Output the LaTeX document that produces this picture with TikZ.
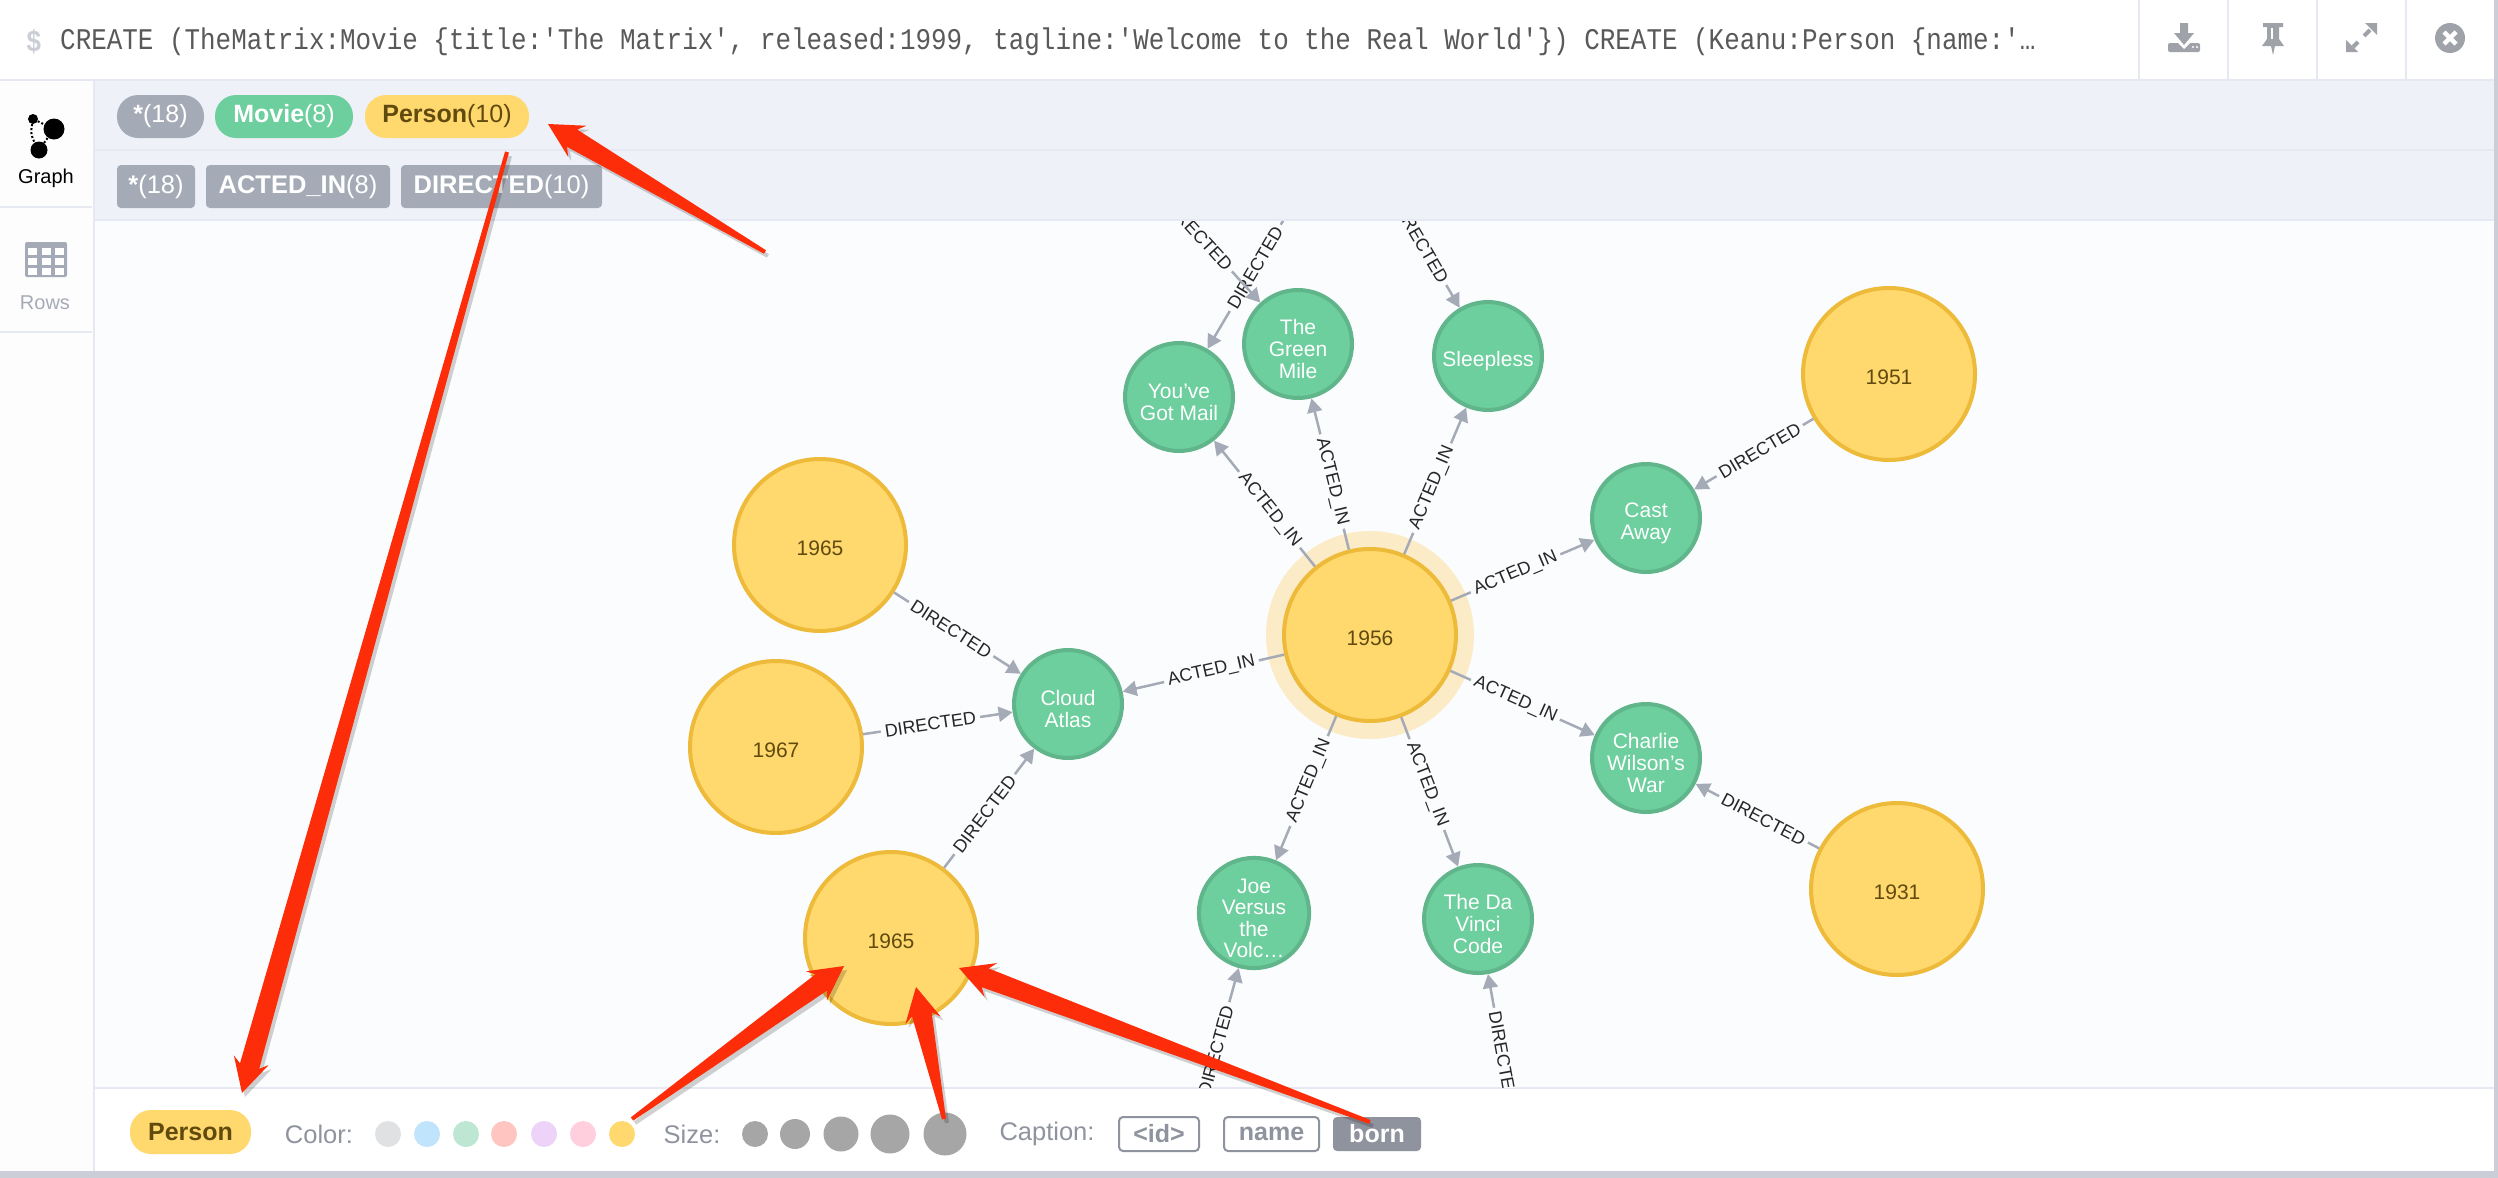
\documentclass[tikz,border=0pt]{standalone}
\usepackage{fontspec}
\setmainfont{Liberation Sans}
\setmonofont{Liberation Mono}
\usetikzlibrary{calc, arrows.meta}
\definecolor{panelbg}{HTML}{EEF1F8}
\definecolor{graphbg}{HTML}{FBFCFE}
\definecolor{rulegrey}{HTML}{E6E9F1}
\definecolor{framegrey}{HTML}{CBCED6}
\definecolor{relgrey}{HTML}{A5ABB6}
\definecolor{iconfill}{HTML}{9FA2A9}
\definecolor{moviefill}{HTML}{6DCE9E}
\definecolor{moviedraw}{HTML}{60B58B}
\definecolor{personfill}{HTML}{FFD86E}
\definecolor{persondraw}{HTML}{EDBA39}
\definecolor{persontext}{HTML}{604A0E}
\definecolor{halofill}{HTML}{FBEBC6}
\definecolor{calloutred}{HTML}{FC2D08}
\definecolor{captiongrey}{HTML}{8E939E}
\newcommand{\dropline}{\rule{0pt}{25pt}}
\tikzset{
    person/.style={circle, draw=persondraw, fill=personfill, line width=4pt, minimum size=172pt, inner sep=0pt, text=persontext, font=\fontsize{21}{22}\selectfont, execute at begin node={\rule{0pt}{20.7pt}}},
    movie/.style={circle, draw=moviedraw, fill=moviefill, line width=4pt, minimum size=108pt, inner sep=0pt, text=white, align=center, font=\fontsize{21}{21.6}\selectfont},
    rel/.style={draw=relgrey, line width=2.5pt, -{Triangle[length=14pt, width=15pt]}},
    rellabel/.style={sloped, pos=.45, fill=graphbg, inner xsep=4pt, inner ysep=0.5pt, text=black!85, font=\fontsize{18}{19}\selectfont},
    pill/.style={rounded corners=21pt, minimum height=43pt, inner sep=0pt, text=white, font=\fontsize{25}{27}\selectfont},
    tag/.style={pill, rounded corners=4pt, fill=relgrey, font=\fontsize{25.5}{27}\selectfont},
    captionbox/.style={rounded corners=4pt, minimum height=34pt, inner sep=0pt, font=\bfseries\fontsize{25}{27}\selectfont},
    greytext/.style={text=captiongrey, font=\fontsize{25.5}{27}\selectfont},
    calloutarrow/.style={fill=calloutred, preaction={fill=black, fill opacity=.18, transform canvas={xshift=3pt, yshift=-4pt}}}
}
\newcommand{\callout}[2]{
    \coordinate (hb) at ($(#2)!34pt!(#1)$);
    \coordinate (hs) at ($(#2)!28pt!(#1)$);
    \path[calloutarrow] (#2) -- ($(hb)!18pt!90:(#2)$) -- ($(hs)!10pt!90:(#2)$) -- ($(#1)!2pt!90:(#2)$)
        -- ($(#1)!2pt!-90:(#2)$) -- ($(hs)!10pt!-90:(#2)$) -- ($(hb)!18pt!-90:(#2)$) -- cycle;
}
\begin{document}
\begin{tikzpicture}[x=1pt, y=-1pt]
    \useasboundingbox (0, 0) rectangle (2498, 1178);
    \fill[white] (0, 0) rectangle (2498, 1178);
    \fill[graphbg] (94, 220) rectangle (2494, 1088);
    \fill[panelbg] (94, 80) rectangle (2494, 220);
    \fill[graphbg!60!white] (0, 80) rectangle (94, 1171);
    \draw[rulegrey, line width=2pt] (0, 80) -- (2494, 80);
    \draw[rulegrey, line width=2pt] (94, 150) -- (2494, 150);
    \draw[rulegrey, line width=2pt] (94, 220) -- (2494, 220);
    \draw[rulegrey, line width=2pt] (94, 1088) -- (2494, 1088);
    \draw[rulegrey, line width=2pt] (94, 80) -- (94, 1171);
    \draw[rulegrey, line width=2pt] (0, 207) -- (92, 207);
    \draw[rulegrey, line width=2pt] (0, 332) -- (92, 332);
    \foreach \x in {2139, 2228, 2317, 2406}
        \draw[rulegrey, line width=2pt] (\x, 0) -- (\x, 80);
    \fill[framegrey] (0, 1171) rectangle (2498, 1178);
    \fill[framegrey] (2494, 0) rectangle (2498, 1178);

    \node[anchor=west, inner sep=0pt, text=framegrey, font=\bfseries\fontsize{30}{30}\ttfamily] (prompt) at (26, 42) {\scalebox{.86}[1]{\$}};
    \node[anchor=west, inner sep=0pt, text=black!65, font=\fontsize{30}{30}\ttfamily] (query) at (60, 42) {\scalebox{.864}[1]{CREATE (TheMatrix:Movie \{title:'The Matrix', released:1999, tagline:'Welcome to the Real World'\}) CREATE (Keanu:Person \{name:'…}};

    \fill[iconfill, rounded corners=2pt] (2168, 43) rectangle (2200, 52);
    \fill[white] (2172, 37) -- (2184, 49) -- (2196, 37) -- cycle;
    \fill[iconfill] (2180, 23) -- (2188, 23) -- (2188, 33) -- (2194, 33) -- (2184, 45) -- (2174, 33) -- (2180, 33) -- cycle;
    \fill[white] (2193, 47) circle (1.2) (2197, 47) circle (1.2);
    \fill[iconfill] (2263, 23) -- (2283, 23) -- (2283, 27) -- (2279, 27) -- (2279, 39) -- (2284, 46) -- (2275, 46) -- (2273, 55) -- (2271, 46) -- (2262, 46) -- (2267, 39) -- (2267, 27) -- (2263, 27) -- cycle;
    \fill[white] (2271, 28) rectangle (2273, 39);
    \fill[iconfill] (2377, 23) -- (2365, 23) -- (2377, 35) -- cycle;
    \fill[iconfill] (2346, 52) -- (2358, 52) -- (2346, 40) -- cycle;
    \draw[iconfill, line width=4pt] (2370, 30) -- (2364, 36) (2358, 42) -- (2353, 47);
    \fill[iconfill] (2450, 38) circle (15);
    \draw[white, line width=4.5pt] (2444, 32) -- (2456, 44) (2456, 32) -- (2444, 44);

    \node[circle, fill=black, minimum size=10pt, inner sep=0pt] (iconA) at (33, 119) {};
    \node[circle, fill=black, minimum size=21pt, inner sep=0pt] (iconB) at (54, 129) {};
    \node[circle, fill=black, minimum size=17pt, inner sep=0pt] (iconC) at (39, 150) {};
    \draw[line width=2pt, dotted] (iconA) -- (iconB);
    \draw[line width=2pt, dotted] (iconA) to[bend right=20] (iconC);
    \draw[line width=2pt, dotted] (iconC) -- (iconB);
    \node[font=\fontsize{20}{22}\selectfont] (graphtab) at (46, 178) {Graph};
    \fill[relgrey, rounded corners=2pt] (25, 242) rectangle (67, 277);
    \foreach \x in {28, 42, 55}
        \foreach \y in {248, 258, 268}
            \fill[white] (\x, \y) rectangle (\x + 9, \y + 7);
    \node[text=relgrey, font=\fontsize{20}{22}\selectfont] (rowstab) at (45, 303) {Rows};

    \node[pill, fill=relgrey, minimum width=87pt] (allnodes) at (160.5, 116.5) {\textbf{*}(18)};
    \node[pill, fill=moviefill, minimum width=138pt] (allmovies) at (284, 116.5) {\textbf{Movie}(8)};
    \node[pill, fill=personfill, text=persontext, minimum width=164pt] (allpersons) at (447, 116.5) {\textbf{Person}(10)};
    \node[tag, minimum width=78pt] (allrels) at (156, 186.5) {\textbf{*}(18)};
    \node[tag, minimum width=184pt] (allacted) at (298, 186.5) {\textbf{ACTED\_IN}(8)};
    \node[tag, minimum width=201pt] (alldirected) at (501.5, 186.5) {\textbf{DIRECTED}(10)};

    \begin{scope}
        \clip (94, 221) rectangle (2494, 1087);
        \node[circle, fill=halofill, minimum size=208pt, inner sep=0pt] (halo) at (1370, 635) {};
        \node[person] (centre) at (1370, 635) {1956};
        \node[person] (pCast) at (1889, 374) {1951};
        \node[person] (pWar) at (1897, 889) {1931};
        \node[person] (pTop) at (820, 545) {1965};
        \node[person] (pMid) at (776, 747) {1967};
        \node[person] (pLow) at (891, 938) {1965};
        \node[movie] (mMail) at (1179, 397) {\dropline You've\\Got Mail};
        \node[movie] (mMile) at (1298, 344) {\dropline The\\Green\\Mile};
        \node[movie] (mSleep) at (1488, 356) {\dropline Sleepless};
        \node[movie] (mCast) at (1646, 518) {\dropline Cast\\Away};
        \node[movie] (mWar) at (1646, 758) {\dropline Charlie\\Wilson's\\War};
        \node[movie] (mCloud) at (1068, 704) {\dropline Cloud\\Atlas};
        \node[movie] (mJoe) at (1254, 913) {\dropline Joe\\Versus\\the\\Volc…};
        \node[movie] (mCode) at (1478, 919) {\dropline The Da\\Vinci\\Code};
        \coordinate (offMail) at (1303, 187);
        \coordinate (offMile) at (1136, 166);
        \coordinate (offSleep) at (1382, 176);
        \coordinate (offJoe) at (1193, 1133);
        \coordinate (offCode) at (1518, 1140);
        \foreach \target in {mMail, mMile, mSleep, mCast, mWar, mCode, mJoe, mCloud}
            \draw[rel] (centre) -- node[rellabel] {ACTED\_IN} (\target);
        \draw[rel] (offMail) -- node[rellabel, pos=.5] {DIRECTED} (mMail);
        \draw[rel] (offMile) -- node[rellabel, pos=.5] {DIRECTED} (mMile);
        \draw[rel] (offSleep) -- node[rellabel, pos=.5] {DIRECTED} (mSleep);
        \draw[rel] (offJoe) -- node[rellabel, pos=.5] {DIRECTED} (mJoe);
        \draw[rel] (offCode) -- node[rellabel, pos=.5] {DIRECTED} (mCode);
        \draw[rel] (pCast) -- node[rellabel] {DIRECTED} (mCast);
        \draw[rel] (pWar) -- node[rellabel] {DIRECTED} (mWar);
        \draw[rel] (pTop) -- node[rellabel] {DIRECTED} (mCloud);
        \draw[rel] (pMid) -- node[rellabel] {DIRECTED} (mCloud);
        \draw[rel] (pLow) -- node[rellabel] {DIRECTED} (mCloud);
    \end{scope}

    \node[pill, fill=personfill, text=persontext, minimum width=121pt, minimum height=44pt] (chosen) at (190.5, 1132) {\textbf{Person}};
    \node[greytext] (colorlabel) at (319, 1134) {Color:};
    \foreach \x/\c in {388/DFE1E3, 427/C0E4FB, 466/BDE6D3, 504/FFC5C0, 544/EED3F8, 583/FFCFDD, 622/FFD86E} {
        \definecolor{swatch}{HTML}{\c}
        \fill[swatch] (\x, 1134) circle (13);
    }
    \node[greytext] (sizelabel) at (692, 1134) {Size:};
    \foreach \x/\r in {755/13, 795/15, 841/17.5, 890/19.5, 945/21.5}
        \fill[black!35] (\x, 1134) circle (\r);
    \node[greytext] (captionlabel) at (1047, 1134) {Caption:};
    \node[captionbox, draw=captiongrey, line width=2pt, text=captiongrey, minimum width=80pt] (capid) at (1159, 1134) {<id>};
    \node[captionbox, draw=captiongrey, line width=2pt, text=captiongrey, minimum width=95pt] (capname) at (1271.5, 1134) {name};
    \node[captionbox, fill=captiongrey, text=white, minimum width=88pt] (capborn) at (1377, 1134) {born};

    \coordinate (tailA) at (765, 252);
    \coordinate (tipA) at (548, 124);
    \coordinate (tailB) at (507, 152);
    \coordinate (tipB) at (242, 1093);
    \coordinate (tailC) at (632, 1119);
    \coordinate (tipC) at (844, 966);
    \coordinate (tailD) at (944, 1119);
    \coordinate (tipD) at (916, 987);
    \coordinate (tailE) at (1370, 1122);
    \coordinate (tipE) at (959, 968);
    \callout{tailA}{tipA}
    \callout{tailB}{tipB}
    \callout{tailC}{tipC}
    \callout{tailD}{tipD}
    \callout{tailE}{tipE}
\end{tikzpicture}
\end{document}
